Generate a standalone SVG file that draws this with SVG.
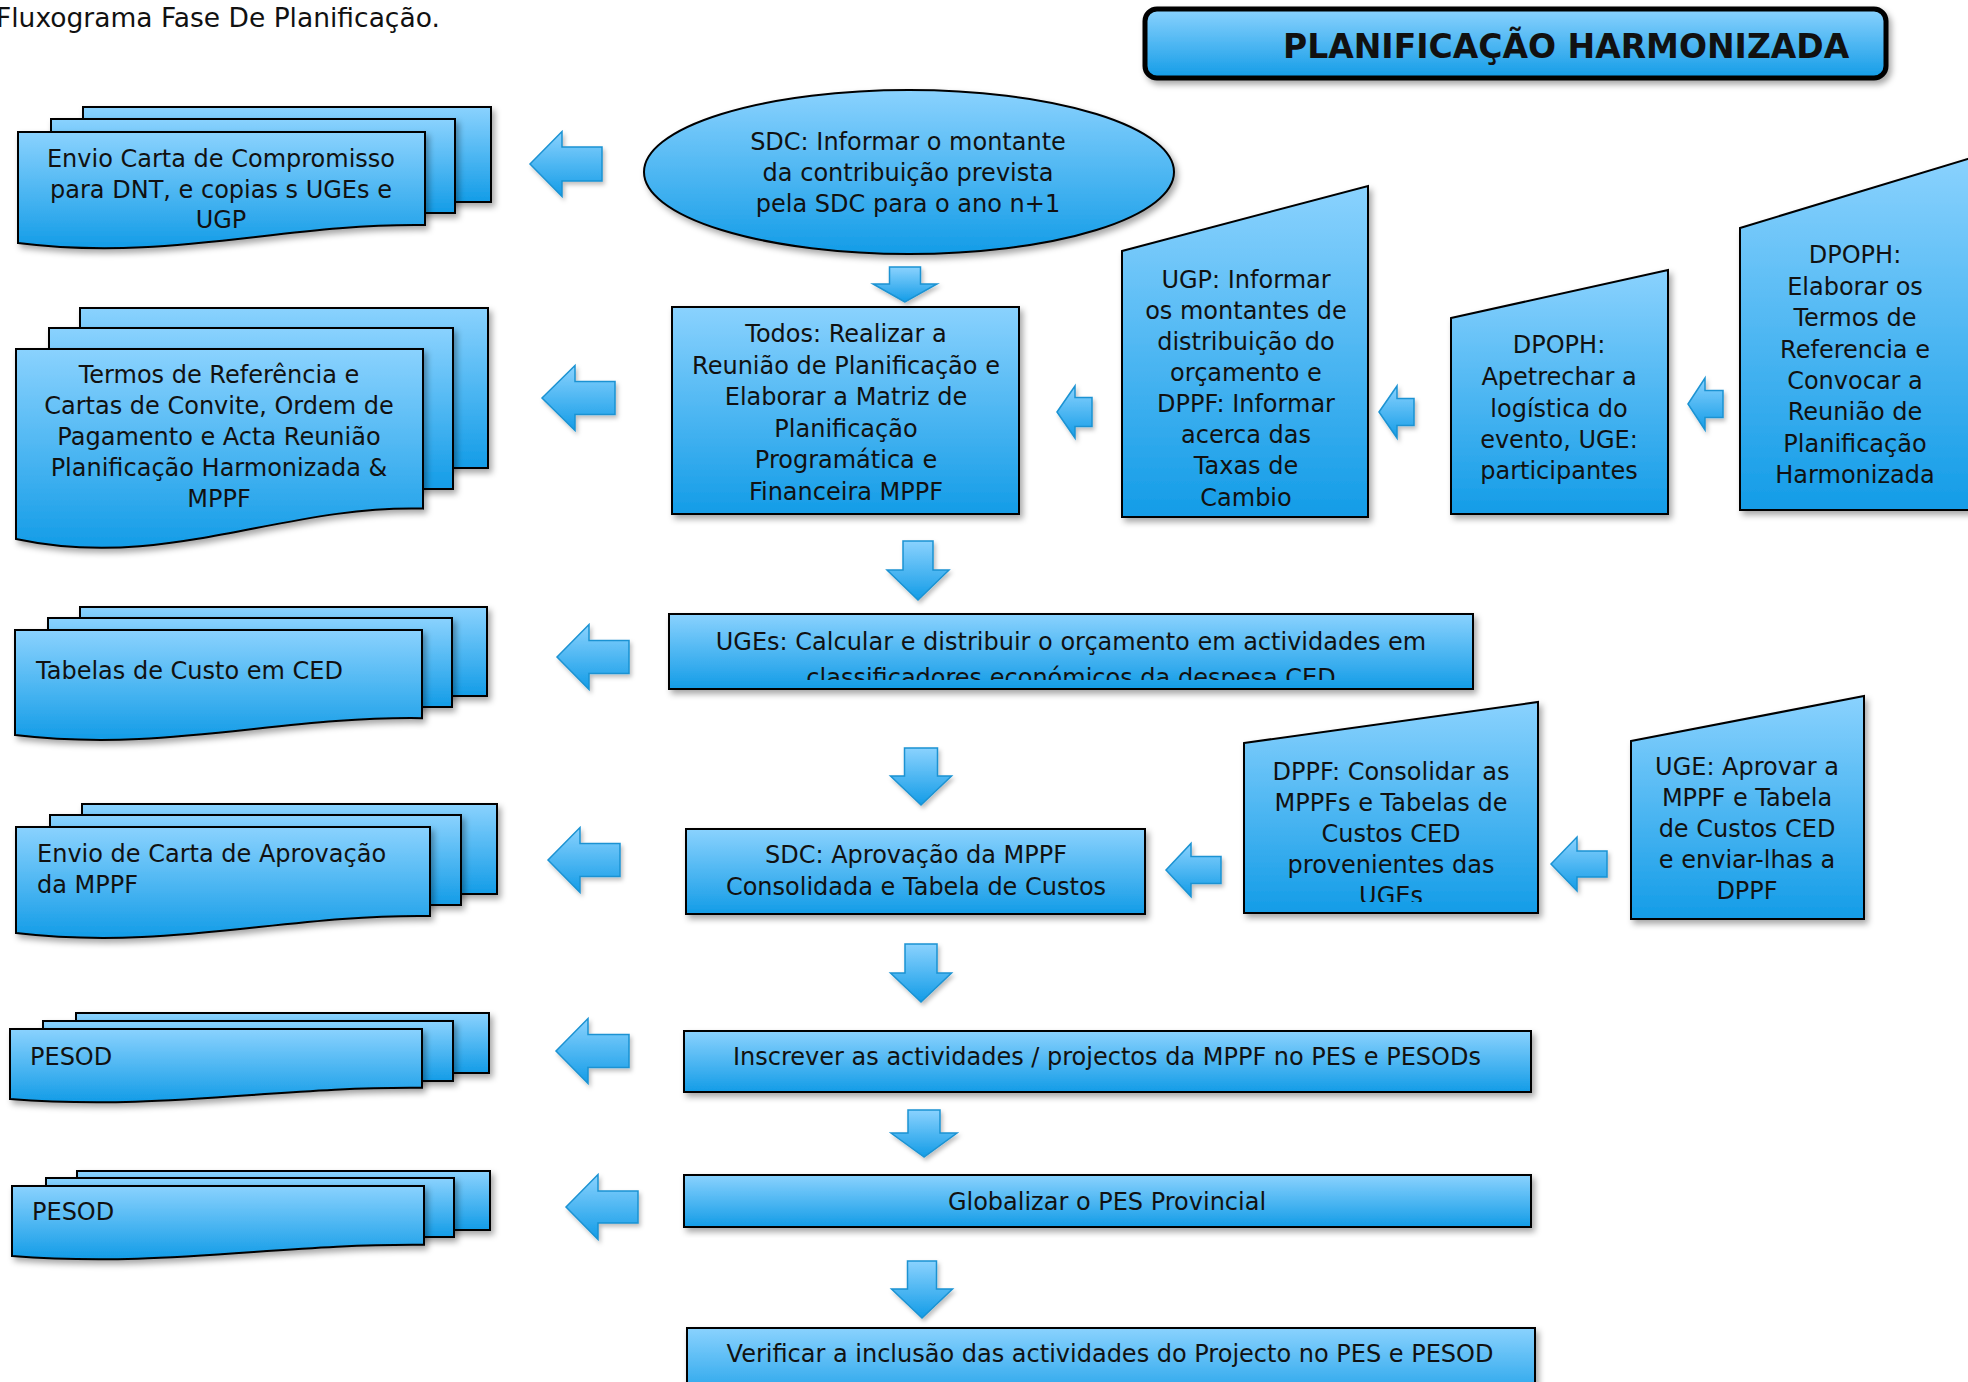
<svg xmlns="http://www.w3.org/2000/svg" width="1968" height="1382" viewBox="0 0 1968 1382">
  <defs>
    <linearGradient id="fillBlue" x1="0" y1="0" x2="0" y2="1">
      <stop offset="0" stop-color="#8AD2FE"/>
      <stop offset="1" stop-color="#139CE7"/>
    </linearGradient>
    <filter id="shadow" x="-10%" y="-10%" width="125%" height="130%">
      <feDropShadow dx="3" dy="4" stdDeviation="3" flood-color="#000" flood-opacity="0.35"/>
    </filter>
    <filter id="arrowShadow" x="-20%" y="-20%" width="150%" height="150%">
      <feDropShadow dx="2" dy="3" stdDeviation="2" flood-color="#000" flood-opacity="0.25"/>
    </filter>
    <clipPath id="clipUGEs"><rect x="669" y="614" width="804" height="66"/></clipPath>
    <clipPath id="clipDPPF"><rect x="1244" y="700" width="294" height="202"/></clipPath>
  </defs>
  <style>
    .shape { fill: url(#fillBlue); stroke: #000; stroke-width: 2; filter: url(#shadow); }
    .header { fill: url(#fillBlue); stroke: #000; stroke-width: 5; filter: url(#shadow); }
    .arrow { fill: url(#fillBlue); stroke: #1A92D2; stroke-width: 1.5; filter: url(#arrowShadow); }
    text { font-family: "DejaVu Sans", Verdana, sans-serif; font-size: 24px; fill: #111; }
    .c { text-anchor: middle; }
    .title { font-size: 26.5px; }
    .headText { font-size: 33px; font-weight: bold; }
  </style>

  <rect width="1968" height="1382" fill="#fff"/>

  <text class="title" x="-4" y="27">Fluxograma Fase De Planificação.</text>

  <!-- header banner -->
  <g id="header">
    <rect class="header" x="1145" y="9" width="741" height="69" rx="12"/>
    <text class="headText" x="1283" y="58">PLANIFICAÇÃO HARMONIZADA</text>
  </g>

  <!-- document stacks on the left -->
  <g id="doc-compromisso">
    <rect class="shape" x="83" y="107" width="408" height="95"/>
    <rect class="shape" x="51" y="119" width="404" height="94"/>
    <path class="shape" d="M18 132 H425 V225 C283 223 169 262 18 243 Z"/>
    <text class="c" x="221" y="167">Envio Carta de Compromisso</text>
    <text class="c" x="221" y="198">para DNT, e copias s UGEs e</text>
    <text class="c" x="221" y="228">UGP</text>
  </g>

  <g id="doc-termos">
    <rect class="shape" x="80" y="308" width="408" height="160"/>
    <rect class="shape" x="49" y="328" width="404" height="161"/>
    <path class="shape" d="M16 349 H423 V508.6 C280.5 504.8 166.6 571.3 16 539 Z"/>
    <text class="c" x="219" y="383">Termos de Referência e</text>
    <text class="c" x="219" y="414">Cartas de Convite, Ordem de</text>
    <text class="c" x="219" y="445">Pagamento e Acta Reunião</text>
    <text class="c" x="219" y="476">Planificação Harmonizada &amp;</text>
    <text class="c" x="219" y="507">MPPF</text>
  </g>

  <g id="doc-tabelas">
    <rect class="shape" x="80" y="607" width="407" height="89"/>
    <rect class="shape" x="48" y="618" width="404" height="89"/>
    <path class="shape" d="M15 630 H422 V718.2 C279.6 716.1 165.6 752.9 15 735 Z"/>
    <text x="36" y="679">Tabelas de Custo em CED</text>
  </g>

  <g id="doc-aprovacao">
    <rect class="shape" x="82" y="804" width="415" height="90"/>
    <rect class="shape" x="50" y="815" width="411" height="90"/>
    <path class="shape" d="M16 827 H430 V916 C285 913.9 169 951 16 933 Z"/>
    <text x="37" y="862">Envio de Carta de Aprovação</text>
    <text x="37" y="893">da MPPF</text>
  </g>

  <g id="doc-pesod-1">
    <rect class="shape" x="76" y="1013" width="413" height="60"/>
    <rect class="shape" x="43" y="1021" width="410" height="60"/>
    <path class="shape" d="M10 1029 H422 V1087.8 C277.8 1086.4 162.4 1110.9 10 1099 Z"/>
    <text x="30" y="1065">PESOD</text>
  </g>

  <g id="doc-pesod-2">
    <rect class="shape" x="77" y="1171" width="413" height="59"/>
    <rect class="shape" x="46" y="1178" width="408" height="59"/>
    <path class="shape" d="M12 1186 H424 V1244.8 C279.8 1243.4 164.4 1267.9 12 1256 Z"/>
    <text x="32" y="1220">PESOD</text>
  </g>

  <!-- process steps -->
  <g id="sdc-informar">
    <ellipse class="shape" cx="909" cy="172" rx="265" ry="82"/>
    <text class="c" x="908" y="150">SDC: Informar o montante</text>
    <text class="c" x="908" y="181">da contribuição prevista</text>
    <text class="c" x="908" y="212">pela SDC para o ano n+1</text>
  </g>

  <g id="todos-reuniao">
    <rect class="shape" x="672" y="307" width="347" height="207"/>
    <text class="c" x="846" y="342">Todos: Realizar a</text>
    <text class="c" x="846" y="373.5">Reunião de Planificação e</text>
    <text class="c" x="846" y="405">Elaborar a Matriz de</text>
    <text class="c" x="846" y="436.5">Planificação</text>
    <text class="c" x="846" y="468">Programática e</text>
    <text class="c" x="846" y="499.5">Financeira MPPF</text>
  </g>

  <g id="ugp-informar">
    <path class="shape" d="M1122 251 L1368 186 V517 H1122 Z"/>
    <text class="c" x="1246" y="288">UGP: Informar</text>
    <text class="c" x="1246" y="319">os montantes de</text>
    <text class="c" x="1246" y="350">distribuição do</text>
    <text class="c" x="1246" y="381">orçamento e</text>
    <text class="c" x="1246" y="412">DPPF: Informar</text>
    <text class="c" x="1246" y="443">acerca das</text>
    <text class="c" x="1246" y="474">Taxas de</text>
    <text class="c" x="1246" y="506">Cambio</text>
  </g>

  <g id="dpoph-apetrechar">
    <path class="shape" d="M1451 318 L1668 270 V514 H1451 Z"/>
    <text class="c" x="1559" y="353">DPOPH:</text>
    <text class="c" x="1559" y="385">Apetrechar a</text>
    <text class="c" x="1559" y="417">logística do</text>
    <text class="c" x="1559" y="448">evento, UGE:</text>
    <text class="c" x="1559" y="479">participantes</text>
  </g>

  <g id="dpoph-elaborar">
    <path class="shape" d="M1740 228 L1974 157 V510 H1740 Z"/>
    <text class="c" x="1855" y="263">DPOPH:</text>
    <text class="c" x="1855" y="294.5">Elaborar os</text>
    <text class="c" x="1855" y="326">Termos de</text>
    <text class="c" x="1855" y="357.5">Referencia e</text>
    <text class="c" x="1855" y="389">Convocar a</text>
    <text class="c" x="1855" y="420">Reunião de</text>
    <text class="c" x="1855" y="451.5">Planificação</text>
    <text class="c" x="1855" y="483">Harmonizada</text>
  </g>

  <g id="uges-calcular">
    <rect class="shape" x="669" y="614" width="804" height="75"/>
    <g clip-path="url(#clipUGEs)">
      <text class="c" x="1071" y="650">UGEs: Calcular e distribuir o orçamento em actividades em</text>
      <text class="c" x="1071" y="686">classificadores económicos da despesa CED</text>
    </g>
  </g>

  <g id="sdc-aprovacao">
    <rect class="shape" x="686" y="829" width="459" height="85"/>
    <text class="c" x="916" y="863">SDC: Aprovação da MPPF</text>
    <text class="c" x="916" y="895">Consolidada e Tabela de Custos</text>
  </g>

  <g id="dppf-consolidar">
    <path class="shape" d="M1244 743 L1538 702 V913 H1244 Z"/>
    <g clip-path="url(#clipDPPF)">
      <text class="c" x="1391" y="780">DPPF: Consolidar as</text>
      <text class="c" x="1391" y="811">MPPFs e Tabelas de</text>
      <text class="c" x="1391" y="842">Custos CED</text>
      <text class="c" x="1391" y="873">provenientes das</text>
      <text class="c" x="1391" y="904">UGEs</text>
    </g>
  </g>

  <g id="uge-aprovar">
    <path class="shape" d="M1631 741 L1864 696 V919 H1631 Z"/>
    <text class="c" x="1747" y="775">UGE: Aprovar a</text>
    <text class="c" x="1747" y="806">MPPF e Tabela</text>
    <text class="c" x="1747" y="837">de Custos CED</text>
    <text class="c" x="1747" y="868">e enviar-lhas a</text>
    <text class="c" x="1747" y="899">DPPF</text>
  </g>

  <g id="inscrever">
    <rect class="shape" x="684" y="1031" width="847" height="61"/>
    <text class="c" x="1107" y="1065">Inscrever as actividades / projectos da MPPF no PES e PESODs</text>
  </g>

  <g id="globalizar">
    <rect class="shape" x="684" y="1175" width="847" height="52"/>
    <text class="c" x="1107" y="1210">Globalizar o PES Provincial</text>
  </g>

  <g id="verificar">
    <rect class="shape" x="687" y="1328" width="848" height="80"/>
    <text class="c" x="1110" y="1362">Verificar a inclusão das actividades do Projecto no PES e PESOD</text>
  </g>

  <!-- block-arrow connectors -->
  <g id="connectors">
    <!-- towards the document stacks -->
    <path class="arrow" d="M530 164 L562 131.5 V147 H602 V181 H562 V196.5 Z"/>
    <path class="arrow" d="M542 398 L575 365.5 V381.5 H615 V414.5 H575 V430.5 Z"/>
    <path class="arrow" d="M557 657 L589 624.5 V640.5 H629 V673.5 H589 V689.5 Z"/>
    <path class="arrow" d="M548 860 L580 827.5 V843.5 H620 V876.5 H580 V892.5 Z"/>
    <path class="arrow" d="M556 1051 L588 1018.5 V1034.5 H629 V1067.5 H588 V1083.5 Z"/>
    <path class="arrow" d="M566 1207 L598 1174.5 V1191 H638 V1223 H598 V1239.5 Z"/>
    <!-- right-to-left feeds between steps -->
    <path class="arrow" d="M1057 412 L1075 386 V397.5 H1092 V426.5 H1075 V438 Z"/>
    <path class="arrow" d="M1379 412 L1397 386 V398.5 H1414 V425.5 H1397 V438 Z"/>
    <path class="arrow" d="M1688 404 L1705 378 V390.5 H1723 V417.5 H1705 V430 Z"/>
    <path class="arrow" d="M1166 870 L1191 843.5 V856.5 H1221 V883.5 H1191 V896.5 Z"/>
    <path class="arrow" d="M1551 864 L1577 837 V851 H1607 V877 H1577 V891 Z"/>
    <!-- downward flow -->
    <path class="arrow" d="M905 302 L873 284 H889.5 V267 H920.5 V284 H937 Z"/>
    <path class="arrow" d="M918 600 L887 570 H903 V541 H933 V570 H949 Z"/>
    <path class="arrow" d="M921 805 L890.5 776 H904.5 V748 H937.5 V776 H951.5 Z"/>
    <path class="arrow" d="M921 1002 L890.5 973 H905 V944 H937 V973 H951.5 Z"/>
    <path class="arrow" d="M924 1157 L891 1133 H908 V1110 H940 V1133 H957 Z"/>
    <path class="arrow" d="M922 1318 L891.5 1289 H907.5 V1261 H936.5 V1289 H952.5 Z"/>
  </g>
</svg>
